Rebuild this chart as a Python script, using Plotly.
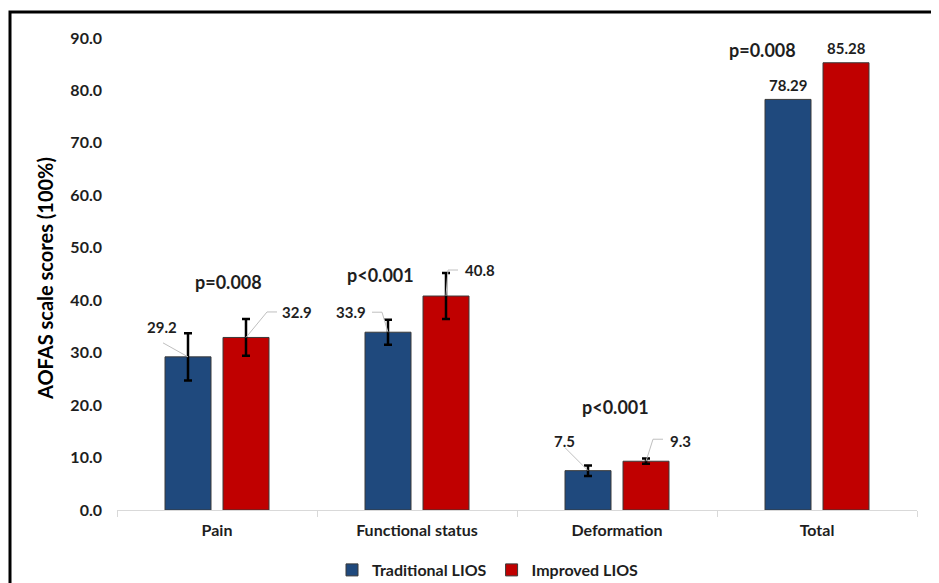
import plotly.graph_objects as go

categories = ["Pain", "Functional status", "Deformation", "Total"]
traditional = [29.2, 33.9, 7.5, 78.29]
improved = [32.9, 40.8, 9.3, 85.28]
trad_err = [4.5, 2.4, 1.0]   # Total has no error bar
impr_err = [3.5, 4.4, 0.5]
trad_labels = ["29.2", "33.9", "7.5", "78.29"]
impr_labels = ["32.9", "40.8", "9.3", "85.28"]
p_values = ["p=0.008", "p<0.001", "p<0.001", "p=0.008"]

BLUE = "#1F497D"
RED = "#C00000"
FONT = "Lato"
TXT = "#1E1E1E"

# page offset (body margin) and layout geometry (page px)
OX = OY = 8
W, H = 939, 583
PLOT_L, PLOT_R, PLOT_T, PLOT_B = 117, 917, 38, 510
ML = PLOT_L - OX
MT = PLOT_T - OY
MR = W - (PLOT_R - OX)
MB = H - (PLOT_B - OY)
PW = PLOT_R - PLOT_L
PH = PLOT_B - PLOT_T
YMAX = 90
px_cat = PW / len(categories)
px_unit = PH / YMAX
OFF = 29 / px_cat  # bar centre offset in category units

n_err = len(trad_err)
fig = go.Figure()
err_style = dict(type="data", visible=True, color="black", thickness=2.5, width=4)
bar_line = dict(color="#3A3A3A", width=1)
fig.add_trace(go.Bar(
    name="Traditional LIOS", x=categories[:n_err], y=traditional[:n_err], offsetgroup="t",
    legendgroup="t", marker=dict(color=BLUE, line=bar_line), error_y=dict(array=trad_err, **err_style),
))
fig.add_trace(go.Bar(
    name="Improved LIOS", x=categories[:n_err], y=improved[:n_err], offsetgroup="i",
    legendgroup="i", marker=dict(color=RED, line=bar_line), error_y=dict(array=impr_err, **err_style),
))
fig.add_trace(go.Bar(
    name="Traditional LIOS", x=categories[n_err:], y=traditional[n_err:], offsetgroup="t",
    legendgroup="t", showlegend=False, marker=dict(color=BLUE, line=bar_line),
))
fig.add_trace(go.Bar(
    name="Improved LIOS", x=categories[n_err:], y=improved[n_err:], offsetgroup="i",
    legendgroup="i", showlegend=False, marker=dict(color=RED, line=bar_line),
))

# label placement (pixel offsets from bar-top centre) and leader-line paths
trad_label_off = [(-26, 30), (-37, 20), (-24, 30), (0, 14)]
impr_label_off = [(51, 25.5), (34, 26), (34, 20), (0, 15)]
trad_leader = [[(0, 0), (-25, 14)], [(0, 0), (-6, 20), (-16, 20)], [(0, 0), (-23, 23)], None]
impr_leader = [[(0, 0), (21, 25.5), (31, 25.5)], [(0, 0), (2, 26), (12, 26)], [(0, 0), (7, 22), (17, 22)], None]

annotations = []
shapes = []
for i in range(len(categories)):
    for vals, labs, offs, leads, sign in [
        (traditional, trad_labels, trad_label_off, trad_leader, -1),
        (improved, impr_labels, impr_label_off, impr_leader, 1),
    ]:
        xc = i + sign * OFF
        yv = vals[i]
        dx, dy = offs[i]
        annotations.append(dict(
            x=xc, y=yv, xref="x", yref="y", text=labs[i], showarrow=False,
            xshift=dx, yshift=dy, font=dict(family=FONT, size=15, color=TXT, weight="bold"),
        ))
        if leads[i]:
            pts = [(xc + px / px_cat, yv + py / px_unit) for px, py in leads[i]]
            path = "M " + " L ".join(f"{x:.4f},{y:.4f}" for x, y in pts)
            shapes.append(dict(type="path", path=path, xref="x", yref="y",
                               line=dict(color="#BFBFBF", width=1)))

# p-value annotations (page pixel positions converted to data)
p_px = [(228, 282), (380, 275), (615, 407), (762, 50)]
for txt, (px, py) in zip(p_values, p_px):
    annotations.append(dict(
        x=(px - PLOT_L) / px_cat - 0.5, y=(PLOT_B - py) / px_unit, xref="x", yref="y",
        text=txt, showarrow=False, font=dict(family=FONT, size=18, color=TXT, weight="bold"),
    ))

# y-axis title
annotations.append(dict(
    x=(45 - PLOT_L) / PW, y=(PLOT_B - 279) / PH, xref="paper", yref="paper",
    xanchor="center", yanchor="middle",
    text="AOFAS scale scores (100%)", textangle=-90, showarrow=False,
    font=dict(family=FONT, size=20, color="black", weight="bold"),
))

# outer frame
shapes.append(dict(type="rect", xref="paper", yref="paper",
                   x0=(10 - PLOT_L) / PW, y0=-2, x1=2, y1=1 + (PLOT_T - 12) / PH,
                   line=dict(color="black", width=3), fillcolor="rgba(0,0,0,0)", layer="above"))

fig.update_layout(
    width=W, height=H,
    margin=dict(l=ML, r=MR, t=MT, b=MB, autoexpand=False),
    paper_bgcolor="white", plot_bgcolor="white",
    barmode="group", bargap=0.42, bargroupgap=0.207,
    font=dict(family=FONT, color=TXT),
    showlegend=True,
    legend=dict(orientation="h", x=(488 - PLOT_L) / PW, xanchor="center", y=(PLOT_B - 570) / PH,
                yanchor="middle", font=dict(family=FONT, size=16, color=TXT, weight="bold"),
                itemwidth=30, traceorder="normal"),
    xaxis=dict(categoryorder="array", categoryarray=categories,
               showline=True, linecolor="#D9D9D9", linewidth=1, ticks="outside", tickson="boundaries",
               ticklen=6, tickcolor="#D9D9D9", showgrid=False, ticklabelstandoff=6,
               tickfont=dict(family=FONT, size=16, color=TXT, weight="bold")),
    yaxis=dict(range=[0, YMAX], dtick=10, tickformat=".1f", showline=False, showgrid=False,
               zeroline=False, ticks="", ticklabelstandoff=14,
               tickfont=dict(family=FONT, size=16, color=TXT, weight="bold")),
    annotations=annotations,
    shapes=shapes,
)

fig.write_html("out.html")
